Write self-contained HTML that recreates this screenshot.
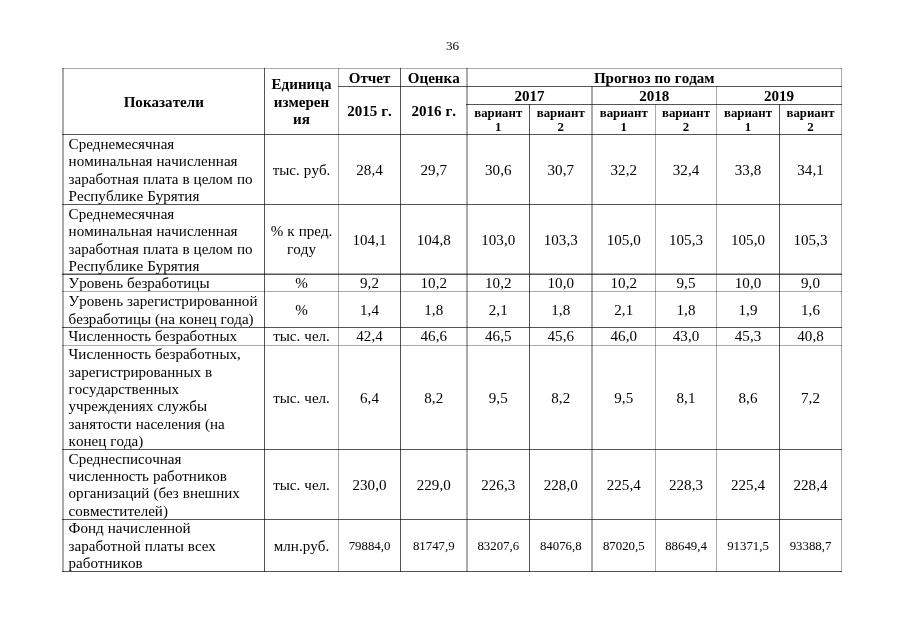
<!DOCTYPE html>
<html lang="ru">
<head>
<meta charset="utf-8">
<title>36</title>
<style>
html,body{margin:0;padding:0;background:#fff;}
body{width:905px;height:640px;position:relative;overflow:hidden;font-family:"Liberation Serif","DejaVu Serif",serif;color:#000;}
svg{position:absolute;left:0;top:0;}
.t{position:absolute;white-space:nowrap;text-align:center;word-spacing:0.3px;font-kerning:none;font-size:15.05px;line-height:17px;height:17px;}
.l{text-align:left;}
.b{font-weight:bold;}
.s{font-size:12.85px;line-height:15px;height:15px;}
.w{word-spacing:0.3px;}
.pn{font-size:13.2px;line-height:15px;height:15px;}
</style>
</head>
<body>

<svg width="905" height="640" viewBox="0 0 905 640" shape-rendering="crispEdges"><g fill="#000">
<rect x="62" y="68" width="1" height="504" fill-opacity="0.333"/>
<rect x="63" y="68" width="1" height="504" fill-opacity="0.333"/>
<rect x="264" y="68" width="1" height="504" fill-opacity="0.667"/>
<rect x="338" y="68" width="1" height="504" fill-opacity="0.333"/>
<rect x="400" y="68" width="1" height="504" fill-opacity="0.667"/>
<rect x="466" y="68" width="1" height="504" fill-opacity="0.333"/>
<rect x="467" y="68" width="1" height="504" fill-opacity="0.333"/>
<rect x="529" y="104" width="1" height="468" fill-opacity="0.667"/>
<rect x="591" y="86" width="1" height="486" fill-opacity="0.333"/>
<rect x="592" y="86" width="1" height="486" fill-opacity="0.333"/>
<rect x="655" y="104" width="1" height="468" fill-opacity="0.333"/>
<rect x="716" y="86" width="1" height="486" fill-opacity="0.333"/>
<rect x="779" y="104" width="1" height="468" fill-opacity="0.667"/>
<rect x="841" y="68" width="1" height="504" fill-opacity="0.333"/>
<rect x="62" y="68" width="780" height="1" fill-opacity="0.333"/>
<rect x="338" y="86" width="504" height="1" fill-opacity="0.667"/>
<rect x="466" y="104" width="376" height="1" fill-opacity="0.667"/>
<rect x="62" y="134" width="780" height="1" fill-opacity="0.667"/>
<rect x="62" y="204" width="780" height="1" fill-opacity="0.667"/>
<rect x="62" y="273" width="780" height="1" fill-opacity="0.333"/>
<rect x="62" y="274" width="780" height="1" fill-opacity="0.667"/>
<rect x="62" y="291" width="780" height="1" fill-opacity="0.333"/>
<rect x="62" y="327" width="780" height="1" fill-opacity="0.667"/>
<rect x="62" y="345" width="780" height="1" fill-opacity="0.333"/>
<rect x="62" y="449" width="780" height="1" fill-opacity="0.667"/>
<rect x="62" y="519" width="780" height="1" fill-opacity="0.667"/>
<rect x="62" y="571" width="780" height="1" fill-opacity="0.667"/>
</g></svg>
<div class="t pn" style="left:0;top:38px;width:905px">36</div>
<div class="t b" style="left:63px;top:94px;width:201.5px">Показатели</div>
<div class="t b" style="left:264.5px;top:76px;width:74px">Единица</div>
<div class="t b" style="left:264.5px;top:94px;width:74px">измерен</div>
<div class="t b" style="left:264.5px;top:111px;width:74px">ия</div>
<div class="t b" style="left:338.5px;top:70px;width:62px">Отчет</div>
<div class="t b" style="left:400.5px;top:70px;width:66.5px">Оценка</div>
<div class="t b w" style="left:338.5px;top:103px;width:62px">2015 г.</div>
<div class="t b w" style="left:400.5px;top:103px;width:66.5px">2016 г.</div>
<div class="t b" style="left:467px;top:70px;width:374.5px">Прогноз по годам</div>
<div class="t b" style="left:467px;top:88px;width:125px">2017</div>
<div class="t b s" style="left:467px;top:106px;width:62.5px">вариант</div>
<div class="t b s" style="left:467px;top:120px;width:62.5px">1</div>
<div class="t b s" style="left:529.5px;top:106px;width:62.5px">вариант</div>
<div class="t b s" style="left:529.5px;top:120px;width:62.5px">2</div>
<div class="t b" style="left:592px;top:88px;width:124.5px">2018</div>
<div class="t b s" style="left:592px;top:106px;width:63.5px">вариант</div>
<div class="t b s" style="left:592px;top:120px;width:63.5px">1</div>
<div class="t b s" style="left:655.5px;top:106px;width:61px">вариант</div>
<div class="t b s" style="left:655.5px;top:120px;width:61px">2</div>
<div class="t b" style="left:716.5px;top:88px;width:125px">2019</div>
<div class="t b s" style="left:716.5px;top:106px;width:63px">вариант</div>
<div class="t b s" style="left:716.5px;top:120px;width:63px">1</div>
<div class="t b s" style="left:779.5px;top:106px;width:62px">вариант</div>
<div class="t b s" style="left:779.5px;top:120px;width:62px">2</div>
<div class="t l" style="left:68.6px;top:136px">Среднемесячная</div>
<div class="t l" style="left:68.6px;top:153px">номинальная начисленная</div>
<div class="t l" style="left:68.6px;top:171px">заработная плата в целом по</div>
<div class="t l" style="left:68.6px;top:188px">Республике Бурятия</div>
<div class="t " style="left:264.5px;top:162px;width:74px">тыс. руб.</div>
<div class="t " style="left:338.5px;top:162px;width:62px">28,4</div>
<div class="t " style="left:400.5px;top:162px;width:66.5px">29,7</div>
<div class="t " style="left:467px;top:162px;width:62.5px">30,6</div>
<div class="t " style="left:529.5px;top:162px;width:62.5px">30,7</div>
<div class="t " style="left:592px;top:162px;width:63.5px">32,2</div>
<div class="t " style="left:655.5px;top:162px;width:61px">32,4</div>
<div class="t " style="left:716.5px;top:162px;width:63px">33,8</div>
<div class="t " style="left:779.5px;top:162px;width:62px">34,1</div>
<div class="t l" style="left:68.6px;top:206px">Среднемесячная</div>
<div class="t l" style="left:68.6px;top:223px">номинальная начисленная</div>
<div class="t l" style="left:68.6px;top:241px">заработная плата в целом по</div>
<div class="t l" style="left:68.6px;top:258px">Республике Бурятия</div>
<div class="t " style="left:264.5px;top:223px;width:74px">% к пред.</div>
<div class="t " style="left:264.5px;top:241px;width:74px">году</div>
<div class="t " style="left:338.5px;top:232px;width:62px">104,1</div>
<div class="t " style="left:400.5px;top:232px;width:66.5px">104,8</div>
<div class="t " style="left:467px;top:232px;width:62.5px">103,0</div>
<div class="t " style="left:529.5px;top:232px;width:62.5px">103,3</div>
<div class="t " style="left:592px;top:232px;width:63.5px">105,0</div>
<div class="t " style="left:655.5px;top:232px;width:61px">105,3</div>
<div class="t " style="left:716.5px;top:232px;width:63px">105,0</div>
<div class="t " style="left:779.5px;top:232px;width:62px">105,3</div>
<div class="t l" style="left:68.6px;top:275px">Уровень безработицы</div>
<div class="t " style="left:264.5px;top:275px;width:74px">%</div>
<div class="t " style="left:338.5px;top:275px;width:62px">9,2</div>
<div class="t " style="left:400.5px;top:275px;width:66.5px">10,2</div>
<div class="t " style="left:467px;top:275px;width:62.5px">10,2</div>
<div class="t " style="left:529.5px;top:275px;width:62.5px">10,0</div>
<div class="t " style="left:592px;top:275px;width:63.5px">10,2</div>
<div class="t " style="left:655.5px;top:275px;width:61px">9,5</div>
<div class="t " style="left:716.5px;top:275px;width:63px">10,0</div>
<div class="t " style="left:779.5px;top:275px;width:62px">9,0</div>
<div class="t l" style="left:68.6px;top:293px">Уровень зарегистрированной</div>
<div class="t l" style="left:68.6px;top:311px">безработицы (на конец года)</div>
<div class="t " style="left:264.5px;top:302px;width:74px">%</div>
<div class="t " style="left:338.5px;top:302px;width:62px">1,4</div>
<div class="t " style="left:400.5px;top:302px;width:66.5px">1,8</div>
<div class="t " style="left:467px;top:302px;width:62.5px">2,1</div>
<div class="t " style="left:529.5px;top:302px;width:62.5px">1,8</div>
<div class="t " style="left:592px;top:302px;width:63.5px">2,1</div>
<div class="t " style="left:655.5px;top:302px;width:61px">1,8</div>
<div class="t " style="left:716.5px;top:302px;width:63px">1,9</div>
<div class="t " style="left:779.5px;top:302px;width:62px">1,6</div>
<div class="t l" style="left:68.6px;top:328px">Численность безработных</div>
<div class="t " style="left:264.5px;top:328px;width:74px">тыс. чел.</div>
<div class="t " style="left:338.5px;top:328px;width:62px">42,4</div>
<div class="t " style="left:400.5px;top:328px;width:66.5px">46,6</div>
<div class="t " style="left:467px;top:328px;width:62.5px">46,5</div>
<div class="t " style="left:529.5px;top:328px;width:62.5px">45,6</div>
<div class="t " style="left:592px;top:328px;width:63.5px">46,0</div>
<div class="t " style="left:655.5px;top:328px;width:61px">43,0</div>
<div class="t " style="left:716.5px;top:328px;width:63px">45,3</div>
<div class="t " style="left:779.5px;top:328px;width:62px">40,8</div>
<div class="t l" style="left:68.6px;top:346px">Численность безработных,</div>
<div class="t l" style="left:68.6px;top:364px">зарегистрированных в</div>
<div class="t l" style="left:68.6px;top:381px">государственных</div>
<div class="t l" style="left:68.6px;top:398px">учреждениях службы</div>
<div class="t l" style="left:68.6px;top:416px">занятости населения (на</div>
<div class="t l" style="left:68.6px;top:433px">конец года)</div>
<div class="t " style="left:264.5px;top:390px;width:74px">тыс. чел.</div>
<div class="t " style="left:338.5px;top:390px;width:62px">6,4</div>
<div class="t " style="left:400.5px;top:390px;width:66.5px">8,2</div>
<div class="t " style="left:467px;top:390px;width:62.5px">9,5</div>
<div class="t " style="left:529.5px;top:390px;width:62.5px">8,2</div>
<div class="t " style="left:592px;top:390px;width:63.5px">9,5</div>
<div class="t " style="left:655.5px;top:390px;width:61px">8,1</div>
<div class="t " style="left:716.5px;top:390px;width:63px">8,6</div>
<div class="t " style="left:779.5px;top:390px;width:62px">7,2</div>
<div class="t l" style="left:68.6px;top:451px">Среднесписочная</div>
<div class="t l" style="left:68.6px;top:468px">численность работников</div>
<div class="t l" style="left:68.6px;top:485px">организаций (без внешних</div>
<div class="t l" style="left:68.6px;top:503px">совместителей)</div>
<div class="t " style="left:264.5px;top:477px;width:74px">тыс. чел.</div>
<div class="t " style="left:338.5px;top:477px;width:62px">230,0</div>
<div class="t " style="left:400.5px;top:477px;width:66.5px">229,0</div>
<div class="t " style="left:467px;top:477px;width:62.5px">226,3</div>
<div class="t " style="left:529.5px;top:477px;width:62.5px">228,0</div>
<div class="t " style="left:592px;top:477px;width:63.5px">225,4</div>
<div class="t " style="left:655.5px;top:477px;width:61px">228,3</div>
<div class="t " style="left:716.5px;top:477px;width:63px">225,4</div>
<div class="t " style="left:779.5px;top:477px;width:62px">228,4</div>
<div class="t l" style="left:68.6px;top:520px">Фонд начисленной</div>
<div class="t l" style="left:68.6px;top:538px">заработной платы всех</div>
<div class="t l" style="left:68.6px;top:555px">работников</div>
<div class="t " style="left:264.5px;top:538px;width:74px">млн.руб.</div>
<div class="t s" style="left:338.5px;top:539px;width:62px">79884,0</div>
<div class="t s" style="left:400.5px;top:539px;width:66.5px">81747,9</div>
<div class="t s" style="left:467px;top:539px;width:62.5px">83207,6</div>
<div class="t s" style="left:529.5px;top:539px;width:62.5px">84076,8</div>
<div class="t s" style="left:592px;top:539px;width:63.5px">87020,5</div>
<div class="t s" style="left:655.5px;top:539px;width:61px">88649,4</div>
<div class="t s" style="left:716.5px;top:539px;width:63px">91371,5</div>
<div class="t s" style="left:779.5px;top:539px;width:62px">93388,7</div>
</body>
</html>
